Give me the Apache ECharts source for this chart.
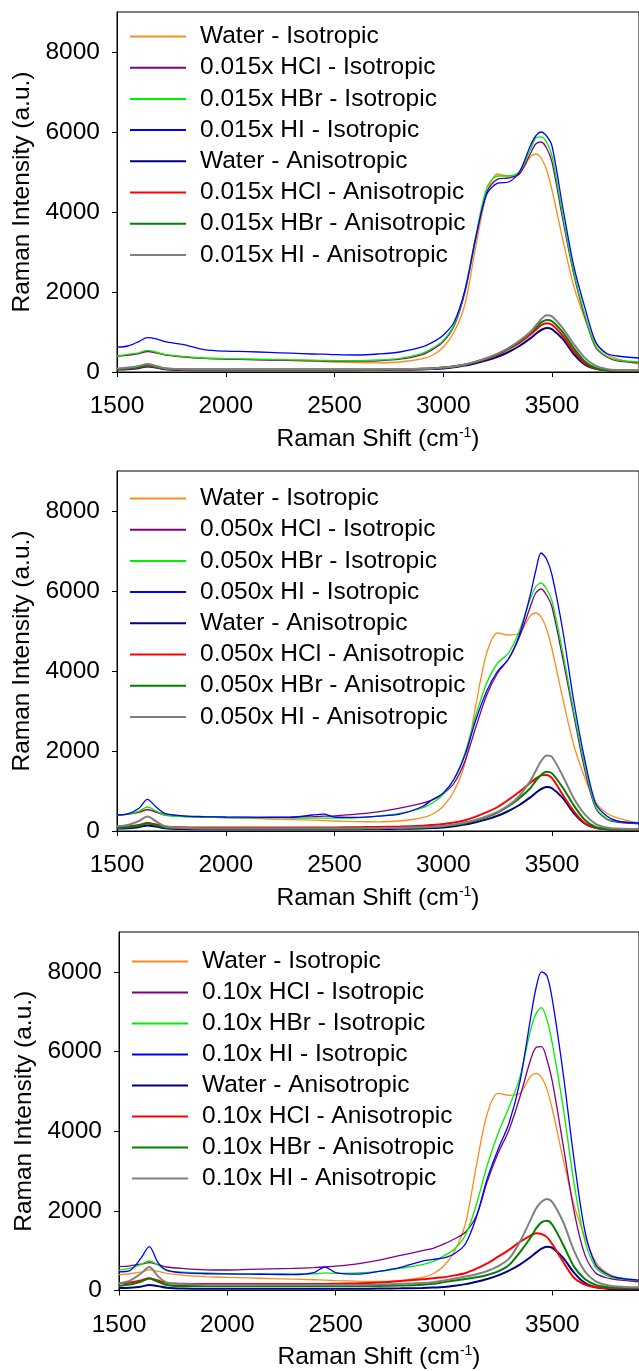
<!DOCTYPE html>
<html>
<head>
<meta charset="utf-8">
<script src="https://cdn.jsdelivr.net/npm/echarts@6/dist/echarts.min.js"></script>
<style>
	html, body { margin: 0; padding: 0; background: #fff; }
	#chart { width: 639px; height: 1371px; }
</style>
</head>
<body>
<div id="chart"></div>
<script>
//Raman shift grid (cm-1)
var ramanShift = [1500,1550,1600,1640,1680,1720,1800,1900,2000,2100,2200,2300,2400,2450,2500,2600,2700,2800,2900,2950,3000,3050,3100,3150,3200,3250,3300,3350,3400,3425,3450,3475,3500,3550,3600,3650,3700,3750,3800,3900];

//pure water, same in every panel
var waterIso = [400,420,460,520,480,430,380,350,330,315,300,285,270,260,250,235,230,250,330,420,620,1000,1700,3150,4450,4950,4900,4950,5380,5450,5350,5050,4550,3300,2150,1350,720,450,330,200];
var waterAniso = [60,70,95,140,110,70,50,45,45,45,45,45,45,45,45,45,50,55,65,75,90,120,160,220,290,380,500,650,840,950,1050,1100,1070,820,450,190,80,45,35,30];

//0.015x
var hcl015Iso = [390,420,460,510,480,430,380,340,320,310,300,290,280,275,270,270,280,320,430,560,760,1150,2000,3350,4500,4820,4850,4950,5450,5700,5750,5600,5250,3800,2450,1400,620,380,280,230];
var hbr015Iso = [400,440,480,540,500,440,390,350,335,325,315,305,295,290,285,285,300,340,460,590,790,1180,2050,3400,4600,4900,4900,5000,5550,5850,5880,5750,5400,3900,2500,1450,650,400,300,250];
var hi015Iso = [620,650,760,860,830,760,690,560,520,510,490,470,450,445,435,425,450,500,620,740,920,1250,2050,3380,4450,4720,4750,5000,5650,5900,6000,5900,5650,4100,2650,1630,760,470,400,350];
var hcl015Aniso = [70,80,110,150,120,80,60,55,55,55,55,55,55,55,55,55,60,65,80,90,110,140,180,250,330,430,570,730,930,1050,1170,1220,1180,900,520,220,85,45,35,30];
var hbr015Aniso = [75,90,120,170,130,85,65,60,60,60,60,60,60,60,60,60,62,68,82,92,112,145,190,260,345,450,590,760,980,1110,1240,1300,1270,990,600,270,100,50,38,32];
var hi015Aniso = [90,110,150,200,150,95,70,65,65,65,65,65,65,65,65,65,65,70,80,90,110,140,190,260,350,460,600,780,1000,1160,1320,1420,1390,1090,700,360,160,75,50,45];

//0.050x
var hcl050Iso = [400,420,470,540,470,400,370,350,340,340,345,350,360,370,380,420,480,570,690,780,930,1200,1750,2600,3400,3950,4300,4850,5600,5950,6050,5900,5600,4300,2900,1550,580,300,220,180];
var hbr050Iso = [390,420,490,600,500,400,360,345,335,330,330,325,320,320,320,330,370,440,570,700,920,1300,1950,2900,3700,4200,4450,5000,5800,6100,6200,6050,5750,4450,3000,1650,620,320,240,200];
var hi050Iso = [400,430,560,790,600,440,380,360,350,345,340,340,400,420,350,340,370,420,600,780,950,1300,1900,2780,3500,4000,4300,4900,5900,6500,6950,6800,6400,5000,3250,1800,700,380,250,200];
var hcl050Aniso = [110,120,150,200,160,115,95,90,90,90,90,90,90,90,90,95,100,110,130,150,175,210,270,360,470,600,780,980,1200,1310,1390,1400,1320,900,500,200,80,50,40,35];
var hbr050Aniso = [80,95,130,190,140,90,70,65,65,65,65,65,65,65,65,65,70,75,90,100,120,150,195,260,350,460,620,820,1070,1250,1400,1480,1440,1080,640,280,100,50,40,35];
var hi050Aniso = [120,150,250,360,240,120,80,65,65,65,65,65,65,65,65,65,70,80,95,105,125,160,210,280,370,480,640,880,1250,1500,1750,1890,1850,1370,820,420,180,90,60,45];

//0.10x
var hcl10Iso = [600,620,660,700,650,590,550,520,515,530,545,555,575,590,610,670,760,880,1000,1060,1170,1300,1470,1880,2740,3450,4030,4850,5800,6100,6120,5800,5250,3650,2000,900,440,320,270,230];
var hbr10Iso = [510,560,650,740,640,500,460,440,420,415,415,415,415,440,430,440,480,560,650,730,870,1050,1400,2170,3150,3950,4600,5350,6550,6950,7100,6800,6200,4600,2700,1250,580,380,300,250];
var hi10Iso = [470,500,800,1100,700,510,440,420,415,410,405,400,450,590,450,410,480,580,740,780,820,930,1180,1850,2820,3550,4200,5230,6850,7600,8000,7900,7300,5450,3300,1500,650,420,320,260];
var hcl10Aniso = [180,200,250,310,250,190,170,165,165,165,165,165,165,165,170,180,200,240,280,310,330,380,440,550,680,850,1020,1220,1380,1440,1420,1340,1160,720,320,150,80,60,50,50];
var hbr10Aniso = [120,150,220,300,220,140,110,110,110,110,110,110,110,110,110,110,115,125,145,170,210,250,290,330,390,480,640,960,1330,1560,1710,1750,1650,1150,600,290,140,90,70,60];
var hi10Aniso = [180,250,420,590,360,200,160,140,140,140,140,140,140,140,140,140,150,170,190,210,250,300,350,410,490,610,800,1220,1780,2060,2230,2300,2220,1720,1000,480,230,140,100,80];

var panelTags = ['0.015x', '0.050x', '0.10x'];
var panelData = [
	[waterIso, hcl015Iso, hbr015Iso, hi015Iso, waterAniso, hcl015Aniso, hbr015Aniso, hi015Aniso],
	[waterIso, hcl050Iso, hbr050Iso, hi050Iso, waterAniso, hcl050Aniso, hbr050Aniso, hi050Aniso],
	[waterIso, hcl10Iso, hbr10Iso, hi10Iso, waterAniso, hcl10Aniso, hbr10Aniso, hi10Aniso]
];

var FONT = '"Liberation Sans", Arial, sans-serif';
var FS = 24.5;
var lineColors = ['#ff8c1a', '#800080', '#00ee00', '#0000ff', '#000080', '#ff0000', '#008000', '#808080'];
var lineWidths = [1.3, 1.3, 1.3, 1.3, 2, 2, 2, 2];

//panel placement
var grids = [
	{ left: 117, top: 12, width: 528, height: 360 },
	{ left: 117, top: 471, width: 528, height: 360 },
	{ left: 119, top: 932, width: 528, height: 362 }
];
var legendTops = [24, 486, 949];
var legendGaps = [6.2, 6.2, 6];

function seriesNames (tag) {
	return ['Water - Isotropic', tag + ' HCl - Isotropic', tag + ' HBr - Isotropic', tag + ' HI - Isotropic',
		'Water - Anisotropic', tag + ' HCl - Anisotropic', tag + ' HBr - Anisotropic', tag + ' HI - Anisotropic'];
}

var xAxes = [], yAxes = [], legends = [], series = [];
for (var p = 0; p < 3; p++) {
	var names = seriesNames(panelTags[p]);
	xAxes.push({
		gridIndex: p,
		type: 'value',
		min: 1500, max: 3900, interval: 500,
		name: '{a|Raman Shift (cm}{s|-1}{a|)}',
		nameLocation: 'middle',
		nameGap: 54,
		nameTextStyle: {
			rich: {
				a: { fontSize: FS, fontFamily: FONT, color: '#000', lineHeight: 26 },
				s: { fontSize: 14, fontFamily: FONT, color: '#000', verticalAlign: 'top', lineHeight: 26 }
			}
		},
		axisLine: { onZero: false, lineStyle: { color: '#000', width: 1 } },
		axisTick: { length: 5, lineStyle: { color: '#000' } },
		axisLabel: { fontSize: FS, fontFamily: FONT, color: '#000', margin: 22, showMaxLabel: false,
			formatter: function (v) { return String(v); } },
		splitLine: { show: false }
	});
	yAxes.push({
		gridIndex: p,
		type: 'value',
		min: 0, max: 9000, interval: 2000,
		name: 'Raman Intensity (a.u.)',
		nameLocation: 'middle',
		nameGap: 65,
		nameTextStyle: { fontSize: FS, fontFamily: FONT, color: '#000' },
		axisLine: { onZero: false, lineStyle: { color: '#000', width: 1 } },
		axisTick: { length: 5, lineStyle: { color: '#000' } },
		axisLabel: { fontSize: FS, fontFamily: FONT, color: '#000', margin: 17, showMaxLabel: false,
			formatter: function (v) { return String(v); } },
		splitLine: { show: false }
	});
	//tiny itemHeight hides the legend dot, the line keeps the series width
	legends.push({
		orient: 'vertical',
		left: grids[p].left + 12,
		top: legendTops[p],
		padding: 0,
		itemWidth: 56,
		itemHeight: 0.5,
		itemGap: legendGaps[p],
		selectedMode: false,
		data: names,
		textStyle: { fontSize: FS, fontFamily: FONT, color: '#000', lineHeight: 24.5, padding: [0, 0, 0, 9] }
	});
	for (var k = 0; k < 8; k++) {
		var vals = panelData[p][k];
		series.push({
			type: 'line',
			name: names[k],
			xAxisIndex: p,
			yAxisIndex: p,
			data: ramanShift.map(function (x, i) { return [x, vals[i]]; }),
			symbol: 'none',
			smooth: 0.3,
			lineStyle: { color: lineColors[k], width: lineWidths[k] },
			itemStyle: { color: lineColors[k] },
			emphasis: { disabled: true }
		});
	}
}

var chart = echarts.init(document.getElementById('chart'));
chart.setOption({
	animation: false,
	backgroundColor: '#fff',
	grid: grids.map(function (g) {
		return { left: g.left, top: g.top, width: g.width, height: g.height, show: true, borderColor: '#000', borderWidth: 1, backgroundColor: 'transparent' };
	}),
	xAxis: xAxes,
	yAxis: yAxes,
	legend: legends,
	series: series
});
</script>
</body>
</html>
